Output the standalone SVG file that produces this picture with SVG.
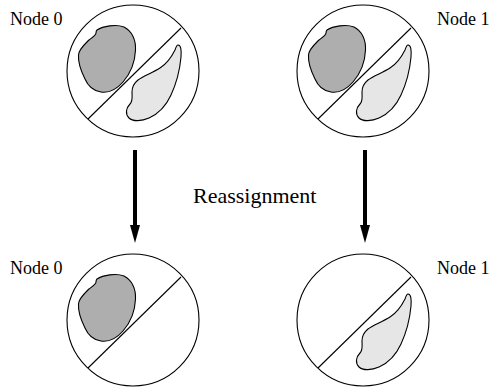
<svg xmlns="http://www.w3.org/2000/svg" xmlns:xlink="http://www.w3.org/1999/xlink" width="491" height="387" viewBox="0 0 491 387">
<style>
.ring{fill:#fff;stroke:#000;stroke-width:1.1}
.div{stroke:#000;stroke-width:1.1}
.dark{fill:#aeaeae;stroke:#000;stroke-width:1.1}
.light{fill:#e6e6e6;stroke:#000;stroke-width:1.1}
.lbl{font-family:"Liberation Serif","Times New Roman",serif;font-size:18px;fill:#000}
.big{font-family:"Liberation Serif","Times New Roman",serif;font-size:22px;fill:#000}
.arrow{stroke:#000;stroke-width:4;fill:none}
</style>
<defs>
<path id="blobA" d="M97,30 C103,26 116,24 124,27 C132,31 136,40 135.5,50 C135,62 130,74 123,82 C116,90 108,93 101,92 C94,91 88,86 85,79 C81,71 78,62 78.5,55 C79,49 84,45 89,40 C93,37 96,35 96,33 C96,32 96,31 97,30 Z"/>
<path id="blobB" d="M178,45 C181,45 181.5,50 181,57 C180,68 177,82 171,95 C166,106 158,114 149,118 C142,121 133,122 129,118 C125,114 126,108 130,104 C133,101 132,96 132,92 C132,88 133,84 138,80 C143,76 152,73 160,68 C168,63 172,56 175,50 C176,47 177,45 178,45 Z"/>
<marker id="head" markerWidth="10" markerHeight="18" refX="5" refY="18" orient="auto" markerUnits="userSpaceOnUse" viewBox="0 0 10 18">
<path d="M0,0 L10,0 L5,18 Z" fill="#000"/>
</marker>
</defs>
<g id="node0-top">
<circle class="ring" cx="133" cy="71" r="66"/>
<line class="div" x1="88" y1="119" x2="181" y2="28"/>
<use href="#blobA" class="dark"/>
<use href="#blobB" class="light"/>
<text class="lbl" x="10" y="25">Node 0</text>
</g>
<g id="node1-top">
<circle class="ring" cx="363" cy="71" r="66"/>
<g transform="translate(230,0)">
<line class="div" x1="88" y1="119" x2="181" y2="28"/>
<use href="#blobA" class="dark"/>
<use href="#blobB" class="light"/>
</g>
<text class="lbl" x="437" y="25">Node 1</text>
</g>
<g id="node0-bottom">
<circle class="ring" cx="133" cy="320" r="66"/>
<g transform="translate(0,249)">
<line class="div" x1="88" y1="119" x2="181" y2="28"/>
<use href="#blobA" class="dark"/>
</g>
<text class="lbl" x="10" y="274">Node 0</text>
</g>
<g id="node1-bottom">
<circle class="ring" cx="363" cy="320" r="66"/>
<g transform="translate(230,249)">
<line class="div" x1="88" y1="119" x2="181" y2="28"/>
<use href="#blobB" class="light"/>
</g>
<text class="lbl" x="437" y="274">Node 1</text>
</g>
<g id="connectors">
<line class="arrow" x1="135" y1="150" x2="135" y2="226"/>
<path d="M130,225 L140,225 L135,243 Z" fill="#000"/>
<line class="arrow" x1="365" y1="150" x2="365" y2="226"/>
<path d="M360,225 L370,225 L365,243 Z" fill="#000"/>
</g>
<text class="big" x="193" y="203">Reassignment</text>
</svg>
